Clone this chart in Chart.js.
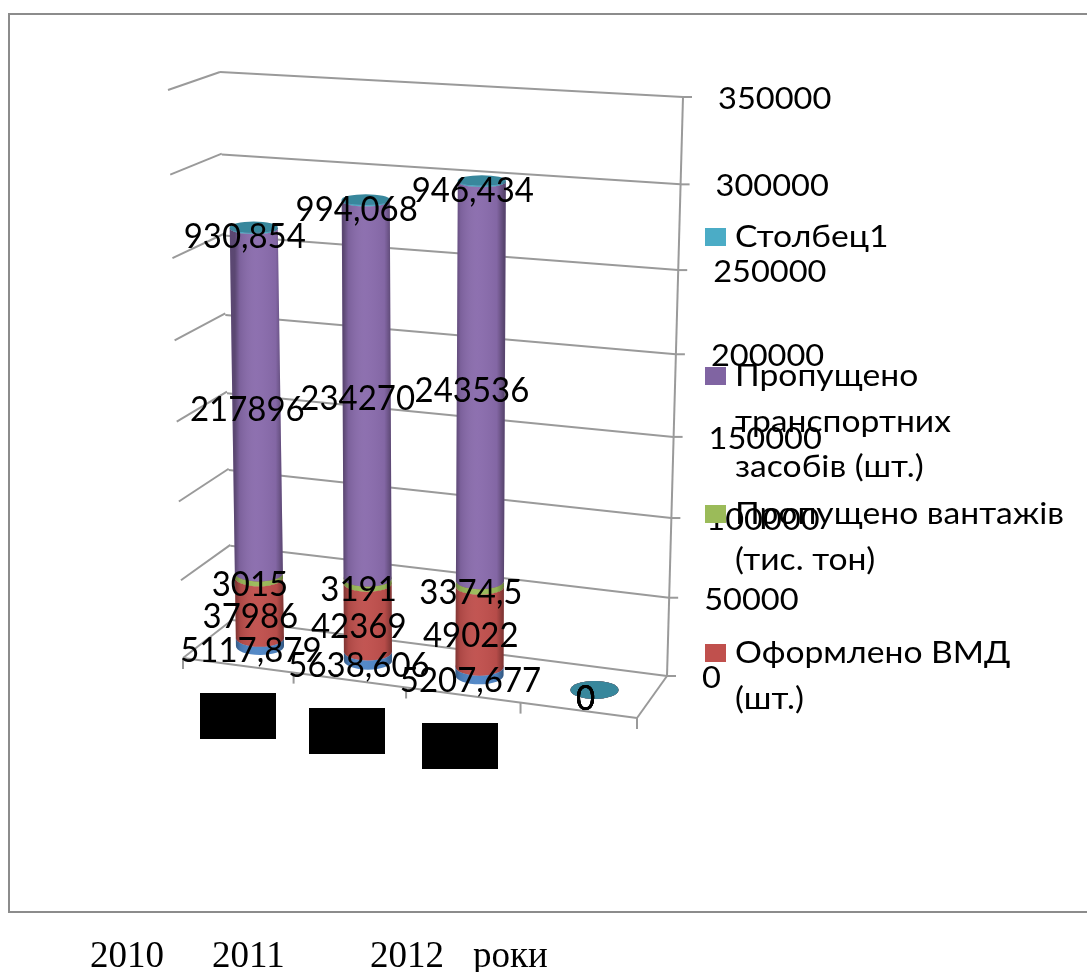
<!DOCTYPE html>
<html>
<head>
<meta charset="utf-8">
<style>
    body { margin: 0; background: #fff; }
    canvas { display: block; }
</style>
<script src="https://cdn.jsdelivr.net/npm/chart.js@4"></script>
</head>
<body>
<canvas id="chart" width="1087" height="972"></canvas>
<script>
// data
const categories = ['2010', '2011', '2012', ''];
const blueValues = [5117.879, 5638.606, 5207.677, 0];
const declarations = [37986, 42369, 49022, 0];
const cargo = [3015, 3191, 3374.5, 0];
const vehicles = [217896, 234270, 243536, 0];
const column1 = [930.854, 994.068, 946.434, 0];
const yTicks = [0, 50000, 100000, 150000, 200000, 250000, 300000, 350000];
const yearLabels = ['2010', '2011', '2012', 'роки'];

const labelFont = 'Lato, sans-serif';
const gridColor = '#9a9a9a';

// square to quad mapping, used for the walls and floor of the 3D box
function quadMap(a, b, c, d) {
    const dx1 = b[0] - c[0], dx2 = d[0] - c[0], sx = a[0] - b[0] + c[0] - d[0];
    const dy1 = b[1] - c[1], dy2 = d[1] - c[1], sy = a[1] - b[1] + c[1] - d[1];
    const det = dx1 * dy2 - dx2 * dy1;
    const g = (sx * dy2 - dx2 * sy) / det;
    const h = (dx1 * sy - sx * dy1) / det;
    return function (u, v) {
        const w = g * u + h * v + 1;
        return [
            ((b[0] - a[0] + g * b[0]) * u + (d[0] - a[0] + h * d[0]) * v + a[0]) / w,
            ((b[1] - a[1] + g * b[1]) * u + (d[1] - a[1] + h * d[1]) * v + a[1]) / w
        ];
    };
}

const backWall = quadMap([232, 620], [667, 676], [683, 97], [220, 72]);
const sideWall = quadMap([183, 658], [232, 620], [220, 72], [168, 90]);
const floor = quadMap([183, 658], [637, 718], [667, 676], [232, 620]);

function line(ctx, p, q) {
    ctx.beginPath();
    ctx.moveTo(p[0], p[1]);
    ctx.lineTo(q[0], q[1]);
    ctx.stroke();
}

// chart area position -> position on the slanted plane the columns stand in
function project(chart, px, py) {
    const area = chart.chartArea;
    const u = (px - area.left) / area.width;
    const v = (area.bottom - py) / area.height;
    return {
        x: 207.3 + 418 * u + 28 * u * u + v * (u - 0.5) * 22,
        y: 638.7 + 58.6 * u - v * (548.5 + 40 * u),
        v: v
    };
}

function text(ctx, str, x, y, size, stretch, align) {
    ctx.save();
    ctx.font = size + 'px ' + labelFont;
    ctx.fillStyle = '#000';
    ctx.textBaseline = 'middle';
    ctx.translate(x, y);
    ctx.scale(stretch, 1);
    ctx.textAlign = align || 'left';
    ctx.fillText(str, 0, 0);
    ctx.restore();
}

function drawColumnPart(ctx, chart, bar, color, topColor) {
    const low = project(chart, bar.x, bar.base);
    const high = project(chart, bar.x, bar.y);
    const r = bar.width / 2;
    const ryLow = 9 - low.v * 4.6;
    const ryHigh = 9 - high.v * 4.6;

    ctx.beginPath();
    ctx.moveTo(low.x - r, low.y);
    ctx.ellipse(low.x, low.y, r, ryLow, 0, Math.PI, 0, true);
    ctx.lineTo(high.x + r, high.y);
    ctx.ellipse(high.x, high.y, r, ryHigh, 0, 0, Math.PI, false);
    ctx.closePath();
    ctx.fillStyle = color;
    ctx.fill();

    const shade = ctx.createLinearGradient(low.x - r, 0, low.x + r, 0);
    shade.addColorStop(0, 'rgba(0,0,0,0.34)');
    shade.addColorStop(0.1, 'rgba(0,0,0,0.1)');
    shade.addColorStop(0.45, 'rgba(255,255,255,0.03)');
    shade.addColorStop(0.85, 'rgba(0,0,0,0.05)');
    shade.addColorStop(1, 'rgba(0,0,0,0.36)');
    ctx.fillStyle = shade;
    ctx.fill();

    ctx.beginPath();
    ctx.ellipse(high.x, high.y, r, ryHigh, 0, 0, Math.PI * 2);
    ctx.fillStyle = topColor;
    ctx.fill();
}

const boxPlugin = {
    id: 'box',
    beforeDatasetsDraw(chart) {
        const ctx = chart.ctx;
        const y = chart.scales.y;
        const area = chart.chartArea;

        // outer frame, the right side is cut off by the picture
        ctx.save();
        ctx.strokeStyle = '#8c8c8c';
        ctx.lineWidth = 2;
        ctx.beginPath();
        ctx.moveTo(1087, 14);
        ctx.lineTo(9, 14);
        ctx.lineTo(9, 912);
        ctx.lineTo(1087, 912);
        ctx.stroke();

        ctx.strokeStyle = gridColor;
        yTicks.forEach(tick => {
            const v = (area.bottom - y.getPixelForValue(tick)) / area.height;
            if (tick > 0) line(ctx, sideWall(0, v), sideWall(1, v));
            line(ctx, backWall(0, v), backWall(1, v));
            const end = backWall(1, v);
            line(ctx, end, [end[0] + 9, end[1]]);
        });
        line(ctx, backWall(1, 0), backWall(1, 1));

        // floor outline and the ticks on its front edge
        line(ctx, floor(0, 0), floor(1, 0));
        line(ctx, floor(1, 0), floor(1, 1));
        line(ctx, floor(0, 0), floor(0, 1));
        for (let i = 0; i <= categories.length; i++) {
            const p = floor(i / categories.length, 0);
            line(ctx, p, [p[0], p[1] + 11]);
        }
        ctx.restore();

        // columns go bottom segment first, so each one sits on the one below
        chart.data.datasets.forEach((ds, i) => {
            chart.getDatasetMeta(i).data.forEach(bar => {
                drawColumnPart(ctx, chart, bar, ds.backgroundColor, ds.topColor);
            });
        });
        return false;
    },
    afterDraw(chart) {
        const ctx = chart.ctx;
        const y = chart.scales.y;
        const area = chart.chartArea;

        // value labels
        chart.data.datasets.forEach((ds, i) => {
            chart.getDatasetMeta(i).data.forEach((bar, j) => {
                const p = project(chart, bar.x, (bar.y + bar.base) / 2);
                const label = String(ds.data[j]).replace('.', ',');
                text(ctx, label, p.x - 9, p.y + 9.5, 34, 0.97, 'center');
            });
        });

        // value axis labels follow the tilted back edge
        yTicks.forEach(tick => {
            const v = (area.bottom - y.getPixelForValue(tick)) / area.height;
            const end = backWall(1, v);
            text(ctx, String(tick), end[0] + 35, end[1] + 2, 31, 1.05);
        });

        // legend, the last entry is cut off in the original
        const legend = chart.options.plugins.box.entries;
        legend.forEach(item => {
            ctx.fillStyle = item.color;
            ctx.fillRect(705, item.y - 9, 21, 18);
            item.lines.forEach((row, i) => {
                text(ctx, row, 735, item.y + i * 45.5, 31, 1.085);
            });
        });

        // hidden category labels
        ctx.fillStyle = '#000';
        chart.options.plugins.box.hidden.forEach(r => ctx.fillRect(r[0], r[1], 76, 46));

        // caption under the frame
        ctx.font = '37px "Liberation Serif", serif';
        ctx.textBaseline = 'alphabetic';
        ctx.textAlign = 'left';
        const captionX = [90, 212, 370, 473];
        yearLabels.forEach((label, i) => ctx.fillText(label, captionX[i], 967));
    }
};

new Chart(document.getElementById('chart').getContext('2d'), {
    type: 'bar',
    data: {
        labels: categories,
        datasets: [
            { label: 'Ряд1', data: blueValues, backgroundColor: '#4f86c6', topColor: '#4f86c6' },
            { label: 'Оформлено ВМД (шт.)', data: declarations, backgroundColor: '#c0504d', topColor: '#a34441' },
            { label: 'Пропущено вантажів (тис. тон)', data: cargo, backgroundColor: '#9bbb59', topColor: '#84a04c' },
            { label: 'Пропущено транспортних засобів (шт.)', data: vehicles, backgroundColor: '#8a6cad', topColor: '#6d5589' },
            { label: 'Столбец1', data: column1, backgroundColor: '#4bacc6', topColor: '#38879c' }
        ]
    },
    options: {
        responsive: false,
        animation: false,
        layout: { padding: { left: 207, right: 435, top: 90, bottom: 333 } },
        datasets: { bar: { barPercentage: 0.432, categoryPercentage: 1 } },
        scales: {
            x: { stacked: true, display: false },
            y: { stacked: true, display: false, min: 0, max: 350000 }
        },
        plugins: {
            legend: { display: false },
            tooltip: { enabled: false },
            box: {
                entries: [
                    { color: '#4bacc6', y: 237, lines: ['Столбец1'] },
                    { color: '#8064a2', y: 376, lines: ['Пропущено', 'транспортних', 'засобів (шт.)'] },
                    { color: '#9bbb59', y: 514, lines: ['Пропущено вантажів', '(тис. тон)'] },
                    { color: '#c0504d', y: 653, lines: ['Оформлено ВМД', '(шт.)'] }
                ],
                hidden: [[200, 693], [309, 708], [422, 723]]
            }
        }
    },
    plugins: [boxPlugin]
});
</script>
</body>
</html>
